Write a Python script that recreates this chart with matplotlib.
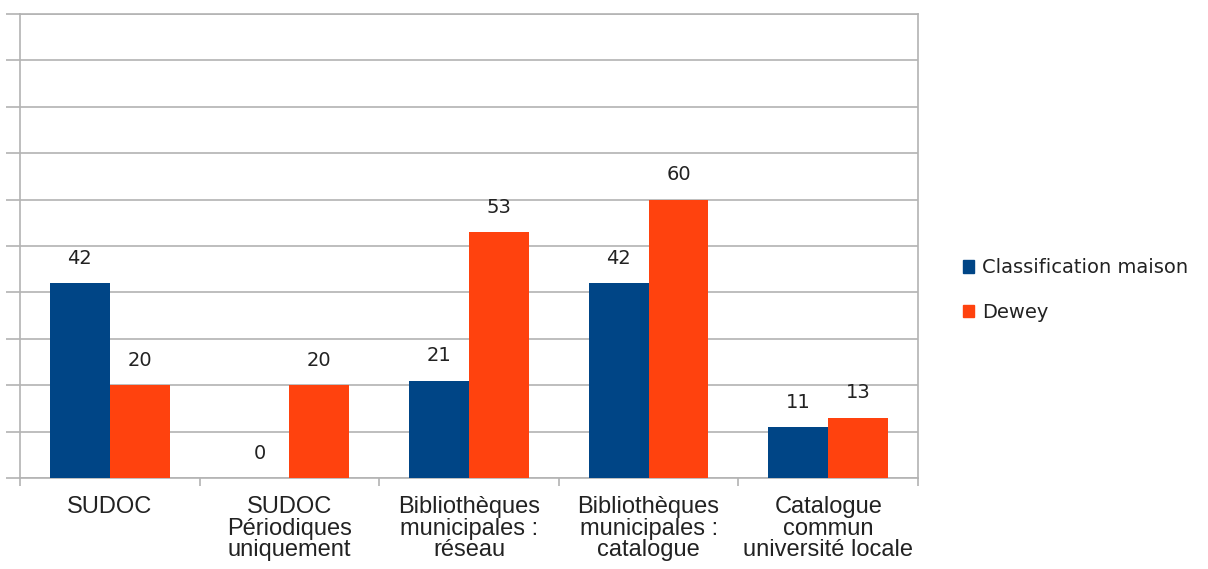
import numpy as np
import matplotlib.pyplot as plt
from matplotlib.patches import Patch

# Data
categories = [
    'SUDOC',
    'SUDOC\nPériodiques\nuniquement',
    'Bibliothèques\nmunicipales :\nréseau',
    'Bibliothèques\nmunicipales :\ncatalogue',
    'Catalogue\ncommun\nuniversité locale',
]
classification_maison = [42, 0, 21, 42, 11]
dewey = [20, 20, 53, 60, 13]
series_names = ['Classification maison', 'Dewey']

blue = '#004586'
red = '#ff420e'
grid_col = '#b3b3b3'

fig = plt.figure(figsize=(12.08, 5.69), dpi=100)
ax = fig.add_axes([20 / 1208, 1 - 478 / 569, 898 / 1208, 464 / 569])

x = np.arange(len(categories))
w = 1 / 3
b1 = ax.bar(x - w / 2, classification_maison, w, color=blue, zorder=3)
b2 = ax.bar(x + w / 2, dewey, w, color=red, zorder=3)

for bars, vals in ((b1, classification_maison), (b2, dewey)):
    for r, v in zip(bars, vals):
        ax.annotate(str(v), (r.get_x() + r.get_width() / 2, v),
                    xytext=(0, 11), textcoords='offset points',
                    ha='center', va='bottom', fontsize=14,
                    family='DejaVu Sans', color='#222222')

ax.set_xlim(-0.5, len(categories) - 0.5)
ax.set_ylim(0, 100)
ax.set_yticks(np.arange(0, 101, 10))
ax.set_yticklabels([])
ax.yaxis.grid(True, color=grid_col, linewidth=1.2, zorder=0)
ax.tick_params(axis='y', length=10, color=grid_col, width=1.2)

ax.set_xticks(np.arange(-0.5, len(categories), 1))
ax.set_xticklabels([])
ax.set_xticks(x, minor=True)
ax.set_xticklabels(categories, minor=True, fontsize=17,
                   family='Liberation Sans', linespacing=0.98,
                   color='#222222')
ax.tick_params(axis='x', which='major', length=6, color=grid_col, width=1.2)
ax.tick_params(axis='x', which='minor', length=0, pad=13)

for s in ax.spines.values():
    s.set_color(grid_col)
    s.set_linewidth(1.2)

handles = [Patch(color=blue), Patch(color=red)]
fig.legend(handles, series_names, loc='center left',
           bbox_to_anchor=(945 / 1208, 1 - 290 / 569), frameon=False,
           prop={'family': 'DejaVu Sans', 'size': 14},
           handlelength=0.6, handleheight=0.6, handletextpad=0.4,
           labelspacing=1.3, labelcolor='#222222')

fig.savefig('out.png', dpi=100)
